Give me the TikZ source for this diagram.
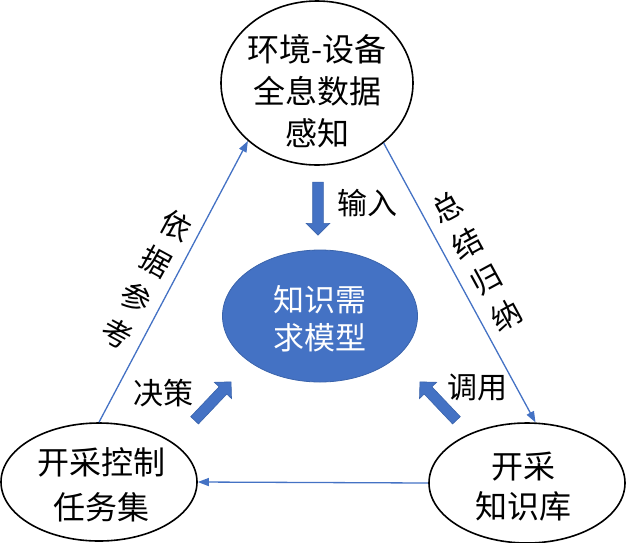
\documentclass[tikz,border=0pt]{standalone}
\usepackage{fontspec}
\setmainfont{Noto Sans CJK SC}
\usetikzlibrary{shapes.geometric,shapes.arrows,arrows.meta}
\definecolor{linkblue}{HTML}{4472C4}
\definecolor{rimblue}{HTML}{3A63AB}

\begin{document}
\begin{tikzpicture}[x=1pt,y=-1pt]
      \tikzset{bubble/.style={draw, ellipse, line width=1.6pt, inner sep=0pt},
               bubbletext/.style={align=center, inner sep=0pt, font=\fontsize{32}{42}\selectfont},
               core/.style={ellipse, fill=linkblue, draw=rimblue, line width=0.8pt, inner sep=0pt},
               fat/.style={single arrow, draw=rimblue, fill=linkblue, line width=0.6pt, inner xsep=0pt, inner ysep=5pt, single arrow head extend=6.5pt, minimum height=53pt},
               link/.style={linkblue, line width=1.3pt, -{Triangle[length=11pt,width=8pt]}},
               say/.style={align=center, inner sep=0pt, text=black, font=\fontsize{30}{41}\selectfont}}

      \useasboundingbox (0,0) rectangle (626,542);

      \node[bubble, minimum width=192pt, minimum height=164pt, label={[bubbletext, yshift=-8.5pt]center:{环境-设备\\全息数据\\感知}}] (env) at (317,83) {};
      \node[bubble, minimum width=196pt, minimum height=118pt, label={[bubbletext, font=\fontsize{32}{45}\selectfont, xshift=2pt, yshift=-2.5pt]center:{开采控制\\任务集}}] (task) at (99,482) {};
      \node[bubble, minimum width=196pt, minimum height=120pt, label={[bubbletext, font=\fontsize{32}{40}\selectfont, xshift=-4pt, yshift=-4pt]center:{开采\\知识库}}] (kb) at (527,483) {};
      \node[core, minimum width=195pt, minimum height=132pt, label={[bubbletext, white, font=\fontsize{31}{38}\selectfont, yshift=-3pt]center:{知识需\\求模型}}] (model) at (320,316) {};

      \draw[link] (task.north) -- (env.220) node[midway, say, xshift=-27pt, yshift=2pt, rotate=-28.6] (refTxt) {依\\据\\参\\考};
      \draw[link] (env.318) -- (kb.82) node[midway, say, xshift=17pt, yshift=21pt, rotate=28.5] (sumTxt) {总\\结\\归\\纳};
      \draw[link] (kb.west) -- (task.east);

      \node[fat, rotate=-90] (inArrow) at (318,206) {};
      \node[fat, rotate=46.5] (decArrow) at (211,403) {};
      \node[fat, rotate=133.5] (useArrow) at (440,403) {};

      \node[say] (inTxt) at (367,203) {输入};
      \node[say] (decTxt) at (163,393) {决策};
      \node[say] (useTxt) at (477,387) {调用};
\end{tikzpicture}
\end{document}
